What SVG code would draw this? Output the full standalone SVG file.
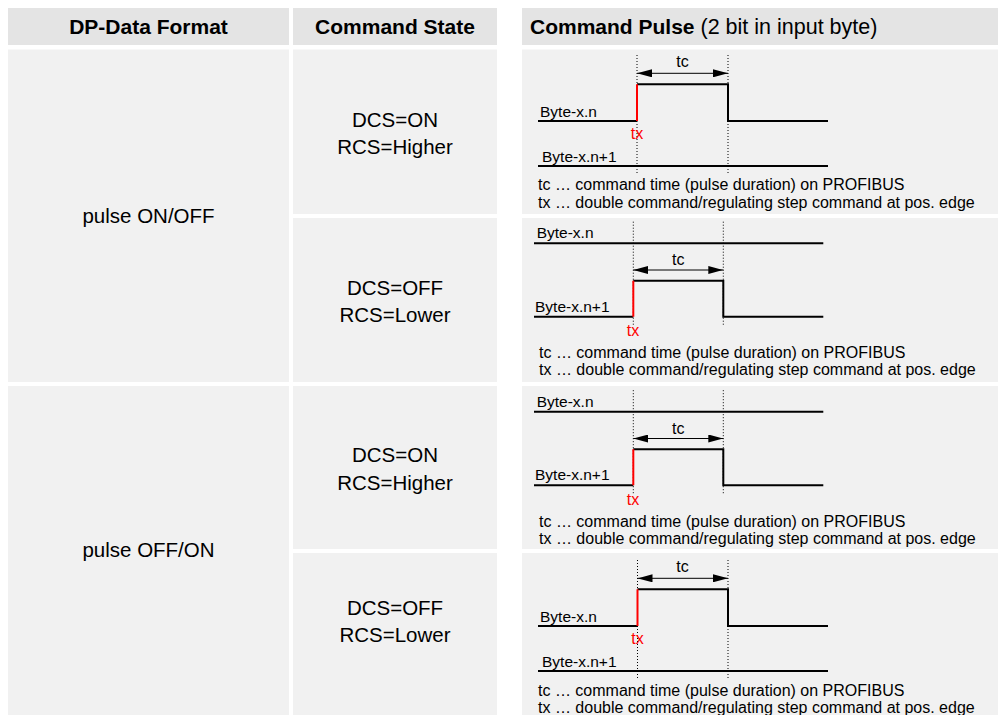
<svg xmlns="http://www.w3.org/2000/svg" width="998" height="715" viewBox="0 0 998 715">
<style>
.hdr{fill:#e4e4e4}
.cell{fill:#f1f1f1}
.ht{font-family:"Liberation Sans",Arial,sans-serif;font-size:21px;font-weight:bold;fill:#000}
.hr{font-weight:normal;font-size:21.5px}
.bt{font-family:"Liberation Sans",Arial,sans-serif;font-size:20.5px;fill:#000;text-anchor:middle}
.sm{font-family:"Liberation Sans",Arial,sans-serif;font-size:15.5px;fill:#000}
.lg{font-family:"Liberation Sans",Arial,sans-serif;font-size:16px;fill:#000}
.tx{font-family:"Liberation Sans",Arial,sans-serif;font-size:16px;fill:#ff0000;text-anchor:middle}
.tc{font-family:"Liberation Sans",Arial,sans-serif;font-size:16px;fill:#000;text-anchor:middle}
.sig{fill:none;stroke:#000;stroke-width:2}
.red{fill:none;stroke:#ff0000;stroke-width:2}
.dot{fill:none;stroke:#000;stroke-width:1;stroke-dasharray:1 2}
.arr{fill:none;stroke:#000;stroke-width:1;marker-start:url(#ah);marker-end:url(#ah)}
</style>
<defs>
<marker id="ah" markerUnits="userSpaceOnUse" markerWidth="15" markerHeight="8" refX="15" refY="4" orient="auto-start-reverse">
<path d="M0,0 L15,4 L0,8 z" fill="#000"/>
</marker>
</defs>
<rect width="998" height="715" fill="#fff"/>

<g id="header">
<rect class="hdr" x="8" y="8" width="281" height="37"/>
<rect class="hdr" x="293" y="8" width="204" height="37"/>
<rect class="hdr" x="522" y="8" width="476" height="37"/>
<text class="ht" x="148.5" y="34" text-anchor="middle">DP-Data Format</text>
<text class="ht" x="395" y="34" text-anchor="middle">Command State</text>
<text class="ht" x="530" y="34">Command Pulse<tspan class="hr"> (2 bit in input byte)</tspan></text>
</g>

<g id="format-onoff">
<rect class="cell" x="8" y="49.5" width="281" height="332.5"/>
<text class="bt" x="148.5" y="223">pulse ON/OFF</text>
</g>
<g id="format-offon">
<rect class="cell" x="8" y="386" width="281" height="329"/>
<text class="bt" x="148.5" y="557">pulse OFF/ON</text>
</g>

<g id="state-a1">
<rect class="cell" x="293" y="49.5" width="204" height="164.5"/>
<text class="bt" x="395" y="126.7">DCS=ON</text>
<text class="bt" x="395" y="154">RCS=Higher</text>
</g>
<g id="state-a2">
<rect class="cell" x="293" y="218" width="204" height="164"/>
<text class="bt" x="395" y="294.7">DCS=OFF</text>
<text class="bt" x="395" y="322">RCS=Lower</text>
</g>
<g id="state-b1">
<rect class="cell" x="293" y="386" width="204" height="163"/>
<text class="bt" x="395" y="462">DCS=ON</text>
<text class="bt" x="395" y="489.5">RCS=Higher</text>
</g>
<g id="state-b2">
<rect class="cell" x="293" y="553" width="204" height="162"/>
<text class="bt" x="395" y="614.5">DCS=OFF</text>
<text class="bt" x="395" y="641.5">RCS=Lower</text>
</g>

<g id="pulse-a1">
<rect class="cell" x="522" y="49.5" width="476" height="164.5"/>
<line class="dot" x1="637" y1="55" x2="637" y2="173"/>
<line class="dot" x1="728" y1="55" x2="728" y2="173"/>
<line class="arr" x1="637" y1="73.3" x2="728" y2="73.3"/>
<text class="tc" x="682.5" y="67">tc</text>
<text class="sm" x="540" y="117">Byte-x.n</text>
<polyline class="sig" points="538,121 637,121"/>
<polyline class="sig" points="637,84.3 728,84.3 728,121 828,121"/>
<line class="red" x1="637" y1="121" x2="637" y2="84.3"/>
<text class="tx" x="637" y="139.3">tx</text>
<text class="sm" x="542" y="161.7">Byte-x.n+1</text>
<line class="sig" x1="538" y1="166" x2="828" y2="166"/>
<text class="lg" x="538" y="190">tc … command time (pulse duration) on PROFIBUS</text>
<text class="lg" x="538" y="207.7">tx … double command/regulating step command at pos. edge</text>
</g>

<g id="pulse-a2">
<rect class="cell" x="522" y="218" width="476" height="164"/>
<line class="dot" x1="633.3" y1="221.7" x2="633.3" y2="325"/>
<line class="dot" x1="723.3" y1="221.7" x2="723.3" y2="325"/>
<text class="sm" x="536.7" y="238.3">Byte-x.n</text>
<line class="sig" x1="534" y1="243.3" x2="823.3" y2="243.3"/>
<line class="arr" x1="633.3" y1="270" x2="723.3" y2="270"/>
<text class="tc" x="678.3" y="265">tc</text>
<text class="sm" x="535" y="311.7">Byte-x.n+1</text>
<polyline class="sig" points="534,316.7 633.3,316.7"/>
<polyline class="sig" points="633.3,280.7 723.3,280.7 723.3,316.7 823.3,316.7"/>
<line class="red" x1="633.3" y1="316.7" x2="633.3" y2="280.7"/>
<text class="tx" x="633" y="336">tx</text>
<text class="lg" x="539" y="358">tc … command time (pulse duration) on PROFIBUS</text>
<text class="lg" x="539" y="375">tx … double command/regulating step command at pos. edge</text>
</g>

<g id="pulse-b1">
<rect class="cell" x="522" y="386" width="476" height="163"/>
<g transform="translate(0,168.5)">
<line class="dot" x1="633.3" y1="221.7" x2="633.3" y2="325"/>
<line class="dot" x1="723.3" y1="221.7" x2="723.3" y2="325"/>
<text class="sm" x="536.7" y="238.3">Byte-x.n</text>
<line class="sig" x1="534" y1="243.3" x2="823.3" y2="243.3"/>
<line class="arr" x1="633.3" y1="270" x2="723.3" y2="270"/>
<text class="tc" x="678.3" y="265">tc</text>
<text class="sm" x="535" y="311.7">Byte-x.n+1</text>
<polyline class="sig" points="534,316.7 633.3,316.7"/>
<polyline class="sig" points="633.3,280.7 723.3,280.7 723.3,316.7 823.3,316.7"/>
<line class="red" x1="633.3" y1="316.7" x2="633.3" y2="280.7"/>
<text class="tx" x="633" y="336">tx</text>
<text class="lg" x="539" y="358">tc … command time (pulse duration) on PROFIBUS</text>
<text class="lg" x="539" y="375">tx … double command/regulating step command at pos. edge</text>
</g>
</g>

<g id="pulse-b2">
<rect class="cell" x="522" y="553" width="476" height="162"/>
<g transform="translate(0,505)">
<line class="dot" x1="637.5" y1="55" x2="637.5" y2="173"/>
<line class="dot" x1="728" y1="55" x2="728" y2="173"/>
<line class="arr" x1="637.5" y1="73.3" x2="728" y2="73.3"/>
<text class="tc" x="682.5" y="67">tc</text>
<text class="sm" x="540" y="117">Byte-x.n</text>
<polyline class="sig" points="538,121 637.5,121"/>
<polyline class="sig" points="637.5,84.3 728,84.3 728,121 828,121"/>
<line class="red" x1="637.5" y1="121" x2="637.5" y2="84.3"/>
<text class="tx" x="637.5" y="139.3">tx</text>
<text class="sm" x="542" y="161.7">Byte-x.n+1</text>
<line class="sig" x1="538" y1="166" x2="828" y2="166"/>
<text class="lg" x="538" y="191">tc … command time (pulse duration) on PROFIBUS</text>
<text class="lg" x="538" y="208">tx … double command/regulating step command at pos. edge</text>
</g>
</g>
</svg>
